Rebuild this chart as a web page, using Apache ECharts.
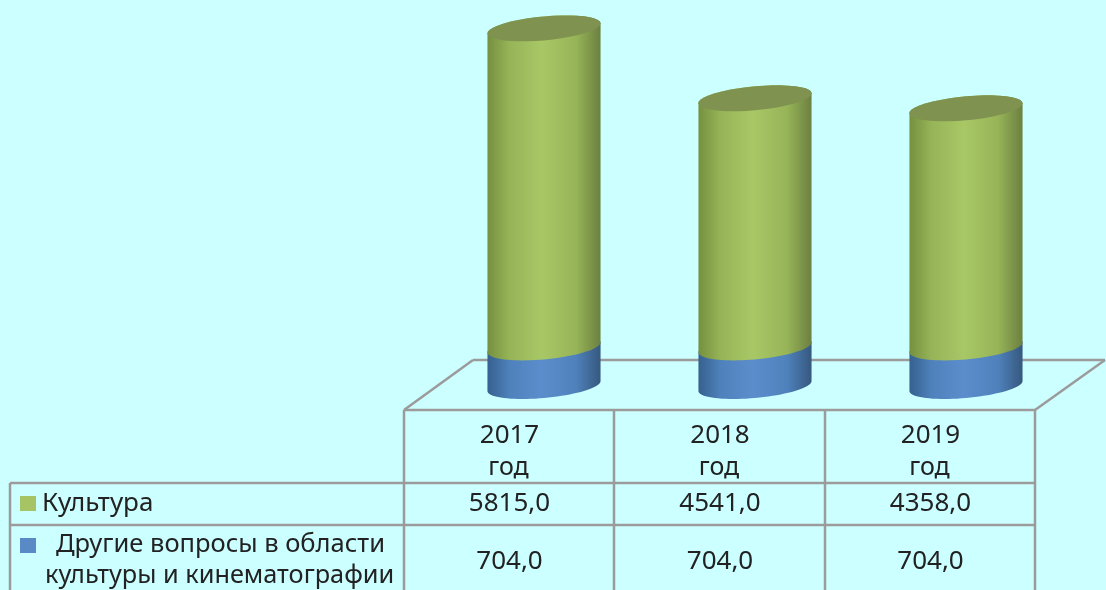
<!DOCTYPE html>
<html>
<head>
<meta charset="utf-8">
<style>
  html, body { margin: 0; padding: 0; background: #ccffff; }
  #chart { width: 1106px; height: 590px; }
</style>
<script src="https://cdn.jsdelivr.net/npm/echarts@6/dist/echarts.min.js"></script>
</head>
<body>
<div id="chart"></div>
<script>
const years = ['2017', '2018', '2019']
const culture = [5815, 4541, 4358]
const otherCulture = [704, 704, 704]
const cultureName = 'Культура'
const otherNameLines = ['Другие вопросы в области', 'культуры и кинематографии']

const lineColor = '#9b9b9b'
const textColor = '#222222'
const fontFamily = '"Noto Sans", sans-serif'
const fontSize = 26

function sideGradient(left, mid, right) {
  return {
    type: 'linear', x: 0, y: 0, x2: 1, y2: 0,
    colorStops: [
      { offset: 0, color: left },
      { offset: 0.2, color: mid[0] },
      { offset: 0.48, color: mid[1] },
      { offset: 0.78, color: mid[0] },
      { offset: 1, color: right },
    ],
  }
}

// the ellipse is sheared so the right end sits higher than the left, like the tilted 3D view
function ellipsePoint(cx, cy, halfW, t) {
  return [cx + halfW * Math.cos(t), cy + 12 * Math.sin(t) - 5 * Math.cos(t)]
}

function arc(cx, cy, halfW, from, to) {
  const pts = []
  const steps = 40
  for (let i = 0; i <= steps; i++) {
    pts.push(ellipsePoint(cx, cy, halfW, from + (to - from) * i / steps))
  }
  return pts
}

function cylinderItem(side, cap) {
  return (params, api) => {
    const base = api.coord([api.value(0), api.value(1)])
    const top = api.coord([api.value(0), api.value(2)])
    const halfW = api.size([1, 0])[0] * 0.268
    const cx = base[0]
    const body = arc(cx, top[1], halfW, Math.PI, Math.PI * 2)
      .concat(arc(cx, base[1], halfW, 0, Math.PI))
    const children = [{ type: 'polygon', shape: { points: body }, style: { fill: side } }]
    if (cap) {
      children.push({
        type: 'polygon',
        shape: { points: arc(cx, top[1], halfW, 0, Math.PI * 2) },
        style: { fill: cap },
      })
    }
    return { type: 'group', children }
  }
}

const otherData = years.map((y, i) => [i, 0, otherCulture[i]])
const cultureData = years.map((y, i) => [i, otherCulture[i], otherCulture[i] + culture[i]])

function line(x1, y1, x2, y2) {
  return {
    type: 'line',
    shape: { x1, y1, x2, y2 },
    style: { stroke: lineColor, lineWidth: 2.5 },
  }
}

function label(text, x, y, align, size) {
  return {
    type: 'text',
    x, y,
    style: {
      text,
      fill: textColor,
      font: (size || fontSize) + 'px ' + fontFamily,
      align: align || 'center',
      verticalAlign: 'middle',
    },
  }
}

function square(x, y, color) {
  return { type: 'rect', shape: { x, y, width: 16, height: 15 }, style: { fill: color } }
}

const cellCenters = [509.5, 720, 930.5]
const fmt = v => v.toFixed(1).replace('.', ',')

const tableItems = [
  // floor of the 3D box
  line(473, 360, 1105, 360),
  line(404, 410, 473, 360),
  line(1035, 410, 1105, 360),
  // table grid
  line(404, 410, 1035, 410),
  line(10, 483, 1035, 483),
  line(10, 525, 1035, 525),
  line(10, 483, 10, 590),
  line(404, 410, 404, 590),
  line(614, 410, 614, 590),
  line(825, 410, 825, 590),
  line(1035, 410, 1035, 590),
  square(20, 496, '#a6c463'),
  square(20, 538, '#5a8ac6'),
  label(cultureName, 42, 504, 'left'),
  label(otherNameLines[0], 56, 545, 'left', 25.5),
  label(otherNameLines[1], 45, 576, 'left', 25.3),
]
years.forEach((y, i) => {
  tableItems.push(label(y, cellCenters[i], 436))
  tableItems.push(label('год', cellCenters[i] - 1, 468, 'center', 25))
  tableItems.push(label(fmt(culture[i]), cellCenters[i], 504))
  tableItems.push(label(fmt(otherCulture[i]), cellCenters[i], 562))
})

const chart = echarts.init(document.getElementById('chart'))
chart.setOption({
  backgroundColor: '#ccffff',
  animation: false,
  grid: { left: 438.5, width: 633, top: 2, height: 384 },
  xAxis: { type: 'category', data: years, show: false },
  yAxis: { type: 'value', min: 0, max: 7000, show: false },
  graphic: { elements: tableItems },
  series: [
    {
      type: 'custom',
      name: 'Другие вопросы в области культуры и кинематографии',
      clip: false,
      z: 5,
      data: otherData,
      encode: { x: 0, y: [1, 2] },
      renderItem: cylinderItem(sideGradient('#36608f', ['#4f82bc', '#5b8dcc'], '#36587f')),
    },
    {
      type: 'custom',
      name: cultureName,
      clip: false,
      z: 6,
      data: cultureData,
      encode: { x: 0, y: [1, 2] },
      renderItem: cylinderItem(sideGradient('#75903f', ['#97b558', '#a8c765'], '#6c8040'), '#7f9250'),
    },
  ],
})
</script>
</body>
</html>
